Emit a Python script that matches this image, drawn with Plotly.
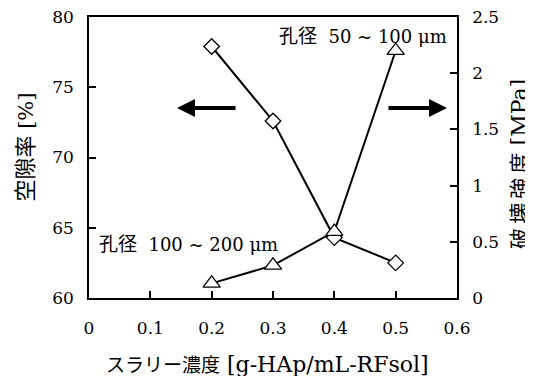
import plotly.graph_objects as go

conc = [0.2, 0.3, 0.4, 0.5]
porosity = [77.9, 72.6, 64.3, 62.5]
strength = [0.13, 0.29, 0.59, 2.2]

x_ticks = [0, 0.1, 0.2, 0.3, 0.4, 0.5, 0.6]
x_ticklabels = ["0", "0.1", "0.2", "0.3", "0.4", "0.5", "0.6"]
y1_ticks = [60, 65, 70, 75, 80]
y2_ticks = [0, 0.5, 1, 1.5, 2, 2.5]
y2_ticklabels = ["0", "0.5", "1", "1.5", "2", "2.5"]

SERIF = "DejaVu Serif"
CJK = "Noto Sans CJK JP"

fig = go.Figure()
fig.add_trace(go.Scatter(
    x=conc, y=porosity, mode="lines+markers",
    line=dict(color="black", width=2),
    marker=dict(symbol="diamond", size=12, color="white",
                line=dict(color="black", width=1.3)),
    yaxis="y", showlegend=False))
fig.add_trace(go.Scatter(
    x=conc, y=strength, mode="lines+markers",
    line=dict(color="black", width=2),
    marker=dict(symbol="triangle-up", size=15, color="white",
                line=dict(color="black", width=1.3)),
    yaxis="y2", showlegend=False))

axis_common = dict(showgrid=False, zeroline=False, showline=True,
                   linecolor="black", linewidth=1.5, ticks="inside",
                   ticklen=7, tickwidth=1.5, tickcolor="black",
                   automargin=False, ticklabeloverflow="allow",
                   tickfont=dict(family=SERIF, size=17, color="black"))

fig.update_layout(
    width=525, height=368,
    margin=dict(l=81, r=76, t=9, b=78),
    paper_bgcolor="white", plot_bgcolor="white",
    font=dict(family=SERIF, color="black"),
    xaxis=dict(range=[0, 0.6], tickvals=x_ticks, ticktext=x_ticklabels,
               mirror=True, ticklabelstandoff=14, **axis_common),
    yaxis=dict(range=[60, 80], tickvals=y1_ticks, ticklabelstandoff=10,
               **axis_common),
    yaxis2=dict(range=[0, 2.5], tickvals=y2_ticks, ticktext=y2_ticklabels,
                overlaying="y", side="right", ticklabelstandoff=10,
                **axis_common),
)

nb = "\u00a0"
ts = "\u2009"


def mix(cjk, latin, cjk_size, latin_size):
    return (f'<span style="font-family:\'{CJK}\';font-size:{cjk_size}px">{cjk}</span>'
            f'<span style="font-family:\'{SERIF}\';font-size:{latin_size}px">{latin}</span>')


annos = [
    dict(xref="paper", yref="paper", x=0.978, y=0.936, xanchor="right",
         yanchor="middle", showarrow=False,
         text=mix("孔径", f"{nb}{nb}50{nb}~{nb}100{nb}μm", 19, 18),
         font=dict(family=SERIF, size=18, color="black")),
    dict(xref="paper", yref="paper", x=0.022, y=0.196, xanchor="left",
         yanchor="middle", showarrow=False,
         text=mix("孔径", f"{nb}{nb}100{nb}~{nb}200{nb}μm", 19, 18),
         font=dict(family=SERIF, size=18, color="black")),
    dict(xref="paper", yref="paper", x=-0.179, y=0.536, xanchor="center",
         yanchor="middle", showarrow=False, textangle=-90,
         text=mix("空隙率", " [%]", 22, 21),
         font=dict(family=SERIF, size=22, color="black")),
    dict(xref="paper", yref="paper", x=1.166, y=0.477, xanchor="center",
         yanchor="middle", showarrow=False, textangle=-90,
         text=mix(f"破{ts}壊{ts}強{ts}度", " [MPa]", 21, 22),
         font=dict(family=SERIF, size=21, color="black")),
    dict(xref="paper", yref="paper", x=0.486, y=-0.233, xanchor="center",
         yanchor="middle", showarrow=False,
         text=mix("スラリー濃度", " [g-HAp/mL-RFsol]", 19, 22),
         font=dict(family=SERIF, size=19, color="black")),
    # arrows
    dict(xref="x", yref="y", x=0.1435, y=73.52, ax=60, ay=0,
         showarrow=True, arrowhead=2, arrowsize=0.9, arrowwidth=4,
         arrowcolor="black", text=""),
    dict(xref="x", yref="y", x=0.5837, y=73.52, ax=-60, ay=0,
         showarrow=True, arrowhead=2, arrowsize=0.9, arrowwidth=4,
         arrowcolor="black", text=""),
]
fig.update_layout(annotations=annos)

fig.write_html("out.html")
